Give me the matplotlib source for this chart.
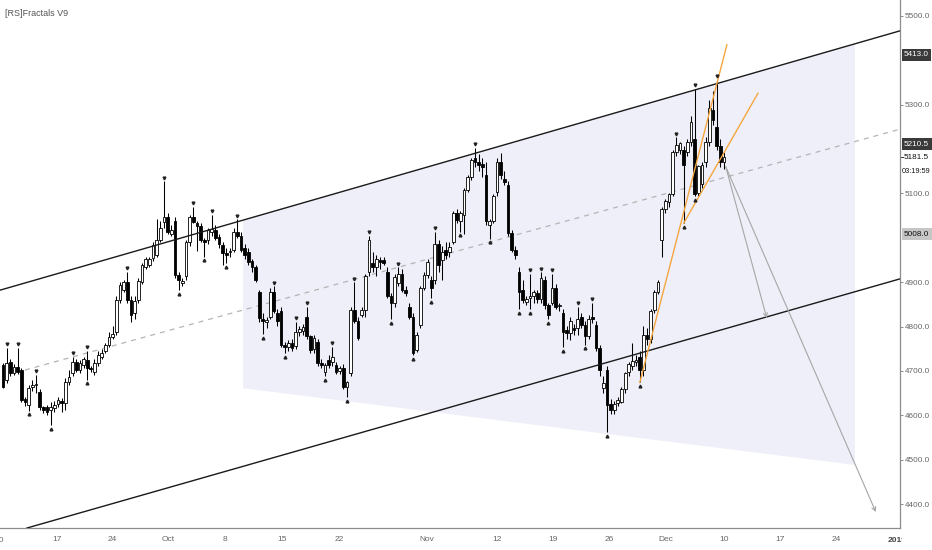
import matplotlib
matplotlib.use("Agg")
import matplotlib.pyplot as plt
import matplotlib.transforms as mtrans
from matplotlib.patches import Polygon, FancyArrowPatch
import numpy as np

plt.rcParams['font.family'] = ['Liberation Sans', 'DejaVu Sans']

# ---------------- data ----------------
opens = [4714,4680,4721,4696,4709,4702,4636,4623,4663,4668,
         4652,4619,4619,4613,4616,4626,4632,4628,4675,4696,
         4721,4702,4714,4725,4707,4698,4719,4732,4745,4759,
         4777,4787,4860,4883,4900,4860,4830,4860,4901,4934,
         4938,4954,4961,4995,5035,5047,5009,5037,4917,4898,
         4915,4990,5047,5033,5026,4995,4995,5014,5018,5002,
         4984,4966,4967,4972,5014,5005,4977,4967,4947,4934,
         4877,4818,4810,4821,4877,4830,4835,4759,4754,4764,
         4756,4787,4790,4821,4778,4749,4766,4719,4698,4725,
         4721,4714,4700,4707,4663,4696,4838,4812,4826,4838,
         4924,4943,4934,4951,4951,4924,4868,4854,4898,4919,
         4883,4844,4821,4747,4804,4887,4917,4905,4905,4986,
         4950,4973,4967,4990,5056,5037,5051,5108,5136,5179,
         5172,5167,5141,5028,5039,5103,5170,5132,5119,5011,
         4973,4924,4882,4856,4865,4868,4875,4863,4905,4849,
         4854,4887,4847,4830,4792,4785,4797,4797,4821,4804,
         4778,4821,4804,4752,4661,4702,4626,4612,4627,4631,
         4659,4697,4712,4721,4731,4702,4782,4773,4837,4877,
         4995,5065,5080,5098,5193,5198,5198,5193,5217,5222,
         5101,5122,5170,5217,5288,5250,5208,5170]
highs = [4719,4752,4726,4715,4752,4707,4641,4669,4680,4691,
         4660,4622,4624,4629,4632,4641,4639,4684,4702,4732,
         4726,4724,4731,4745,4712,4726,4745,4750,4764,4787,
         4801,4868,4900,4905,4924,4868,4868,4910,4943,4957,
         4957,4990,5042,5037,5127,5056,5028,5047,4924,4910,
         4995,5052,5070,5037,5033,5000,5023,5052,5028,5009,
         4990,4976,4976,5023,5042,5014,4986,4976,4952,4938,
         4883,4831,4821,4887,4891,4840,4844,4766,4769,4771,
         4811,4801,4806,4844,4782,4782,4773,4726,4719,4735,
         4754,4721,4712,4715,4678,4844,4900,4821,4844,4919,
         5004,4967,4962,4957,4957,4934,4875,4919,4934,4929,
         4891,4854,4830,4787,4891,4924,4953,4915,5014,4995,
         4981,4990,4990,5061,5066,5061,5113,5141,5179,5203,
         5189,5179,5170,5042,5099,5179,5192,5151,5127,5018,
         4981,4934,4905,4868,4919,4882,4882,4922,4915,4854,
         4919,4896,4854,4840,4801,4821,4806,4844,4830,4812,
         4825,4854,4812,4759,4688,4712,4636,4632,4641,4664,
         4697,4721,4764,4735,4745,4801,4797,4839,4882,4905,
         5070,5088,5102,5197,5227,5217,5208,5222,5274,5336,
         5165,5170,5227,5311,5331,5356,5222,5193]
lows = [4661,4673,4688,4691,4693,4629,4622,4610,4654,4650,
        4613,4606,4601,4578,4608,4619,4608,4613,4669,4688,
        4698,4696,4707,4680,4698,4691,4712,4726,4740,4754,
        4771,4782,4853,4877,4853,4811,4816,4853,4896,4929,
        4934,4948,4957,4990,5023,5009,5004,4910,4882,4891,
        4905,4981,5033,4971,4990,4957,4986,5004,4995,4976,
        4938,4943,4957,4967,5000,4967,4952,4938,4924,4901,
        4811,4783,4797,4816,4830,4802,4754,4740,4745,4745,
        4749,4778,4782,4773,4740,4740,4712,4707,4688,4707,
        4712,4693,4693,4659,4641,4688,4807,4769,4821,4821,
        4915,4924,4915,4929,4938,4864,4816,4844,4891,4877,
        4868,4816,4735,4742,4797,4882,4910,4864,4896,4924,
        4905,4952,4957,4986,5033,5014,5009,5103,5131,5160,
        5151,5136,5028,4998,5033,5094,5132,5118,5004,4967,
        4952,4839,4853,4849,4839,4853,4853,4853,4839,4816,
        4849,4839,4835,4754,4773,4769,4782,4782,4797,4759,
        4773,4807,4745,4688,4650,4562,4603,4603,4622,4627,
        4650,4688,4703,4712,4674,4688,4759,4764,4830,4873,
        4957,5056,5070,5094,5184,5189,5033,5184,5208,5094,
        5094,5113,5160,5208,5254,5198,5160,5156]
closes = [4663,4719,4696,4709,4698,4634,4629,4661,4668,4671,
          4619,4613,4608,4619,4624,4634,4628,4675,4686,4721,
          4702,4719,4727,4707,4704,4719,4736,4741,4759,4777,
          4783,4860,4894,4900,4860,4825,4858,4903,4938,4953,
          4953,4984,4995,5023,5047,5014,5018,4917,4905,4903,
          4990,5047,5035,5026,4995,4990,5018,5019,5000,4986,
          4966,4962,4970,5014,5005,4973,4961,4945,4934,4905,
          4820,4812,4814,4877,4835,4812,4759,4754,4764,4752,
          4787,4794,4800,4778,4747,4775,4719,4714,4714,4714,
          4731,4698,4707,4663,4675,4838,4812,4775,4838,4914,
          4995,4934,4953,4945,4943,4868,4854,4912,4919,4883,
          4875,4821,4741,4780,4887,4917,4945,4887,4986,4938,
          4967,4961,4980,5056,5040,5056,5108,5136,5175,5170,
          5165,5160,5038,5039,5094,5170,5141,5126,5011,4973,
          4961,4877,4860,4863,4869,4877,4863,4910,4849,4827,
          4887,4844,4849,4787,4785,4812,4792,4818,4804,4778,
          4818,4816,4752,4702,4672,4623,4611,4626,4634,4659,
          4695,4716,4722,4724,4702,4782,4773,4834,4877,4900,
          5065,5082,5098,5193,5210,5213,5165,5217,5260,5099,
          5161,5165,5217,5292,5266,5206,5170,5181.5]

fractal_high_idx = [1, 4, 9, 19, 23, 34, 44, 52, 57, 64, 74, 80, 83, 90, 96, 100,
                    108, 118, 129, 144, 147, 150, 157, 161, 184, 189, 195]
fractal_low_idx = [7, 13, 23, 48, 55, 61, 71, 77, 88, 94, 106, 112, 117, 125, 133,
                   141, 144, 149, 153, 159, 165, 174, 186, 189]

x_tick_pos = [14.8, 29.8, 45.1, 60.7, 76.2, 91.8, 115.8, 135.0, 150.3, 165.6,
              181.1, 197.0, 212.3, 227.6]
x_tick_labels = ['17', '24', 'Oct', '8', '15', '22', 'Nov', '12', '19', '26',
                 'Dec', '10', '17', '24']
y_ticks = [4400, 4500, 4600, 4700, 4800, 4900, 5100, 5300, 5500]

# drawings (bar index, price)
upper_channel = [(-0.82, 4882), (243.2, 5462)]
lower_channel = [(6.56, 4346), (243.2, 4903)]
mid_dashed = [(6.0, 4702), (250.0, 5256)]
zone = [(65.6, 5040), (232.8, 5437), (232.8, 4488), (65.6, 4661)]
orange_a = [(174, 4674), (197.8, 5435)]
orange_b = [(186, 5033), (206.3, 5326)]
arrow_start = (197.5, 5160)
arrow_ends = [(208.7, 4819), (238.5, 4382)]

# ---------------- figure ----------------
W, H = 932, 550
fig = plt.figure(figsize=(W / 100, H / 100), dpi=100)
fig.patch.set_facecolor('white')
ax_left, ax_right, ax_bottom = 0, 900, 528
ax = fig.add_axes([ax_left / W, (H - ax_bottom) / H, (ax_right - ax_left) / W, ax_bottom / H])
ax.set_facecolor('white')
ax.set_xlim(-0.82, 245.1)
ax.set_ylim(4346, 5536)

# projection zone
ax.add_patch(Polygon(zone, closed=True, facecolor='#efeff9', edgecolor='none', zorder=1))

# dashed mid line
ax.plot([p[0] for p in mid_dashed], [p[1] for p in mid_dashed], color='#b4b4b4',
        lw=0.9, ls=(0, (4, 4)), zorder=2)

# candles
o = np.array(opens, float); c = np.array(closes, float)
h = np.array(highs, float); l = np.array(lows, float)
idx = np.arange(len(o))
up = c >= o
ax.vlines(idx, l, h, color='black', lw=0.75, zorder=3)
bb = np.minimum(o, c)
bh = np.maximum(np.abs(c - o), 2.0)
ax.bar(idx[up], bh[up], bottom=bb[up], width=0.74, color='white',
       edgecolor='black', linewidth=0.6, zorder=4)
ax.bar(idx[~up], bh[~up], bottom=bb[~up], width=0.74, color='black',
       edgecolor='black', linewidth=0.6, zorder=4)

# fractal markers
fh = np.array(fractal_high_idx); fl = np.array(fractal_low_idx)
ax.plot(fh, h[fh] + 8, linestyle='none', marker='v', ms=2.0, color='#222', zorder=6)
ax.plot(fl, l[fl] - 8, linestyle='none', marker='^', ms=2.0, color='#222', zorder=6)

# channel lines
ax.axline(upper_channel[0], upper_channel[1], color='#1a1a1a', lw=1.0, zorder=5)
ax.axline(lower_channel[0], lower_channel[1], color='#1a1a1a', lw=1.0, zorder=5)

# orange lines
for seg in (orange_a, orange_b):
    ax.plot([seg[0][0], seg[1][0]], [seg[0][1], seg[1][1]], color='#f5a640', lw=1.0, zorder=5)

# grey arrows
for end in arrow_ends:
    ax.add_patch(FancyArrowPatch(arrow_start, end, arrowstyle='->', mutation_scale=7,
                                 color='#a6a6a6', lw=0.8, zorder=5, shrinkA=0, shrinkB=0))

# axes styling
for s in ('top', 'left'):
    ax.spines[s].set_visible(False)
ax.spines['right'].set_color('#8c8c8c')
ax.spines['bottom'].set_color('#8c8c8c')
ax.spines['right'].set_linewidth(0.9)
ax.spines['bottom'].set_linewidth(0.9)

ax.yaxis.tick_right()
ax.set_yticks(y_ticks)
ax.set_yticklabels([f'{v:.1f}' for v in y_ticks])
ax.tick_params(axis='y', length=2.5, width=0.7, color='#8c8c8c', labelsize=5.9,
               labelcolor='#666666', pad=0.8)
ax.set_xticks(x_tick_pos)
ax.set_xticklabels(x_tick_labels)
ax.tick_params(axis='x', length=0, pad=6, labelsize=6.0, labelcolor='#666666')

# cut labels at the edges
xt = mtrans.blended_transform_factory(ax.transData, ax.transAxes)
ax.text(-1.1, -0.024, '10', transform=xt, ha='center', va='center', fontsize=6.0,
        color='#666666', clip_on=False)
yr = ax.text(244.3, -0.024, '2019', transform=xt, ha='center', va='center', fontsize=6.0,
             color='#444444', fontweight='bold')
yr.set_clip_box(mtrans.TransformedBbox(mtrans.Bbox([[0, 0], [(ax_right + 2) / W, 1]]),
                                       fig.transFigure))
yr.set_clip_on(True)

# price labels on the right scale
yt = mtrans.blended_transform_factory(ax.transAxes, ax.transData)
off = mtrans.ScaledTranslation(4 / 100, 0, fig.dpi_scale_trans)
box_kw = dict(boxstyle='square,pad=0.3', ec='none')
ax.text(1.0, 5413.0, '5413.0', transform=yt + off, ha='left', va='center', fontsize=5.9,
        color='white', bbox=dict(fc='#3a3a3a', **box_kw), clip_on=False, zorder=10)
ax.text(1.0, 5210.5, '5210.5', transform=yt + off, ha='left', va='center', fontsize=5.9,
        color='white', bbox=dict(fc='#3a3a3a', **box_kw), clip_on=False, zorder=10)
ax.plot([1.0, 1.003], [5181.5, 5181.5], transform=yt, color='#333333', lw=0.7,
        clip_on=False)
ax.text(1.0, 5181.5, '5181.5', transform=yt + off, ha='left', va='center', fontsize=5.9,
        color='#111111', clip_on=False, zorder=10)
ax.text(1.0, 5150.0, '03:19:59', transform=yt + mtrans.ScaledTranslation(2 / 100, 0, fig.dpi_scale_trans),
        ha='left', va='center', fontsize=5.3, color='#111111', clip_on=False, zorder=10)
ax.text(1.0, 5008.0, '5008.0', transform=yt + off, ha='left', va='center', fontsize=5.9,
        color='#111111', bbox=dict(fc='#c6c6c6', **box_kw), clip_on=False, zorder=10)

# indicator title
fig.text(5 / W, 1 - 14 / H, '[RS]Fractals V9', fontsize=6.5, color='#555555',
         ha='left', va='center')

fig.savefig('out.png', dpi=100, facecolor='white')
